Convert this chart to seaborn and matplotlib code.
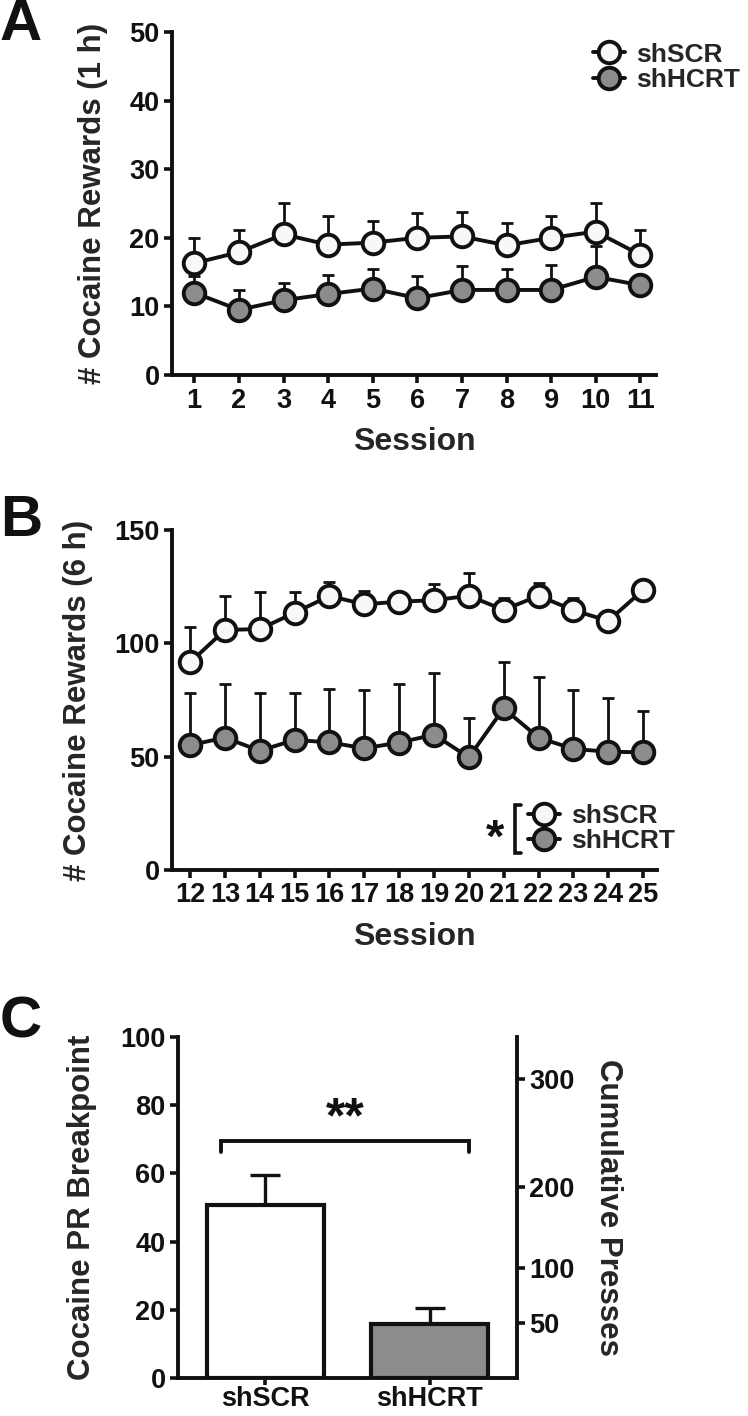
import numpy as np
import pandas as pd
import seaborn as sns
import matplotlib.pyplot as plt

# Data
sessions_a = [1, 2, 3, 4, 5, 6, 7, 8, 9, 10, 11]
scr_a = [16.3, 17.9, 20.5, 19.0, 19.3, 20.0, 20.2, 18.9, 20.0, 20.9, 17.5]
scr_a_sem = [3.7, 3.3, 4.6, 4.2, 3.2, 3.6, 3.5, 3.2, 3.2, 4.2, 3.6]
hcrt_a = [12.0, 9.5, 10.9, 11.8, 12.6, 11.2, 12.4, 12.4, 12.4, 14.3, 13.1]
hcrt_a_sem = [2.4, 2.9, 2.5, 2.8, 2.9, 3.2, 3.5, 3.1, 3.6, 4.5, 1.2]

sessions_b = [12, 13, 14, 15, 16, 17, 18, 19, 20, 21, 22, 23, 24, 25]
scr_b = [91.6, 105.9, 106.3, 113.5, 120.9, 117.2, 118.4, 119.0, 121.0, 114.7, 121.0, 114.6, 109.9, 123.5]
scr_b_sem = [15.8, 15.1, 16.2, 9.0, 6.3, 6.0, 1.5, 7.0, 9.9, 5.2, 5.5, 5.3, 4.4, 2.0]
hcrt_b = [55.1, 58.4, 52.6, 57.4, 56.3, 53.7, 56.2, 59.7, 49.7, 71.3, 58.4, 53.4, 52.2, 51.9]
hcrt_b_sem = [22.8, 23.5, 25.3, 20.8, 23.4, 25.7, 25.9, 27.4, 17.2, 20.6, 26.9, 26.0, 23.5, 18.2]

groups = ['shSCR', 'shHCRT']
breakpoint_mean = [50.8, 15.9]
breakpoint_sem = [8.7, 4.7]
presses_labels = ['50', '100', '200', '300']
presses_at_breakpoint = [16.1, 32.3, 56.0, 87.7]

sns.set_theme(style='ticks')
plt.rcParams['font.family'] = ['Liberation Sans', 'DejaVu Sans']
plt.rcParams['font.weight'] = 'bold'
plt.rcParams['axes.labelweight'] = 'bold'

W, H = 748, 1416
fig = plt.figure(figsize=(W / 100, H / 100), dpi=100)

def px_axes(left, right, top, bottom):
    return fig.add_axes([left / W, 1 - bottom / H, (right - left) / W, (bottom - top) / H])

ax_a = px_axes(172, 656, 32, 375)
ax_b = px_axes(172, 657, 530, 870)
ax_c = px_axes(178, 517, 1037, 1378)

face = {'shSCR': '#f8f8f8', 'shHCRT': '#8c8c8c'}
edge = '#111111'
tick_fs = 19.5
label_fs = 22.5


def style_axes(ax):
    for s in ['left', 'bottom', 'right']:
        ax.spines[s].set_linewidth(2.8)
        ax.spines[s].set_color(edge)
    ax.tick_params(width=2.6, length=6, labelsize=tick_fs, colors=edge, pad=3)
    for t in ax.get_xticklabels() + ax.get_yticklabels():
        t.set_fontweight('bold')


def session_panel(ax, x, scr, scr_sem, hcrt, hcrt_sem):
    for y, sem, name in [(scr, scr_sem, 'shSCR'), (hcrt, hcrt_sem, 'shHCRT')]:
        ax.errorbar(x, y, yerr=[np.zeros(len(sem)), sem], fmt='none', ecolor=edge,
                    elinewidth=2.0, capsize=4.0, capthick=2.0, zorder=2)
        df = pd.DataFrame({'session': x, 'value': y})
        sns.lineplot(data=df, x='session', y='value', ax=ax, color=edge, linewidth=2.8,
                     marker='o', markersize=15.5, markerfacecolor=face[name],
                     markeredgecolor=edge, markeredgewidth=2.8, label=name, zorder=3)
    sns.despine(ax=ax)
    ax.set_xticks(x)
    ax.set_xlabel('Session', fontsize=label_fs + 0.5, fontweight='bold', labelpad=10)


def bold_legend(ax, anchor):
    leg = ax.legend(loc='upper left', bbox_to_anchor=anchor, frameon=False, fontsize=19,
                    handlelength=1.2, handletextpad=0.45, labelspacing=0.05, borderaxespad=0)
    for t in leg.get_texts():
        t.set_fontweight('bold')
    return leg


# Panel A
session_panel(ax_a, sessions_a, scr_a, scr_a_sem, hcrt_a, hcrt_a_sem)
ax_a.set_xlim(0.5, 11.35)
ax_a.set_ylim(0, 50)
ax_a.set_yticks([0, 10, 20, 30, 40, 50])
ax_a.set_ylabel('# Cocaine Rewards (1 h)', fontsize=label_fs, fontweight='bold', labelpad=15)
style_axes(ax_a)
bold_legend(ax_a, (0.848, 1.0))

# Panel B
session_panel(ax_b, sessions_b, scr_b, scr_b_sem, hcrt_b, hcrt_b_sem)
ax_b.set_xlim(11.48, 25.4)
ax_b.set_ylim(0, 150)
ax_b.set_yticks([0, 50, 100, 150])
ax_b.set_ylabel('# Cocaine Rewards (6 h)', fontsize=label_fs, fontweight='bold', labelpad=15)
style_axes(ax_b)
bold_legend(ax_b, (0.712, 0.225))
# significance bracket next to legend
ax_b.plot([0.72, 0.707, 0.707, 0.72], [0.19, 0.19, 0.05, 0.05], transform=ax_b.transAxes,
          color=edge, lw=2.6, solid_joinstyle='miter', clip_on=False)
ax_b.text(0.667, 0.09, '*', transform=ax_b.transAxes, fontsize=34, fontweight='bold',
          ha='center', va='center', color=edge)

# Panel C
cdf = pd.DataFrame({'group': groups, 'bp': breakpoint_mean})
sns.barplot(data=cdf, x='group', y='bp', ax=ax_c, palette=['white', face['shHCRT']],
            hue='group', legend=False, width=0.71, edgecolor=edge, linewidth=3.0, zorder=3)
ax_c.errorbar([0, 1], breakpoint_mean, yerr=[np.zeros(2), breakpoint_sem], fmt='none',
              ecolor=edge, elinewidth=2.4, capsize=11, capthick=2.4, zorder=2)
ax_c.set_xlim(-0.53, 1.53)
ax_c.set_ylim(0, 100)
ax_c.set_yticks([0, 20, 40, 60, 80, 100])
ax_c.set_xlabel('')
ax_c.set_ylabel('Cocaine PR Breakpoint', fontsize=label_fs, fontweight='bold', labelpad=17)
ax_c.spines['top'].set_visible(False)
ax_c.spines['right'].set_visible(False)
style_axes(ax_c)
ax_c.tick_params(axis='x', length=5, pad=1)

ax_r = ax_c.twinx()
ax_r.set_ylim(0, 100)
ax_r.set_yticks(presses_at_breakpoint)
ax_r.set_yticklabels(presses_labels)
ax_r.spines['top'].set_visible(False)
ax_r.spines['left'].set_visible(False)
ax_r.spines['bottom'].set_visible(False)
style_axes(ax_r)
ax_r.set_ylabel('Cumulative Presses', fontsize=label_fs, fontweight='bold', rotation=-90,
                labelpad=35)

# bracket with stars
ax_c.plot([-0.267, -0.267, 1.236, 1.236], [66.3, 69.6, 69.6, 66.3], color=edge, lw=2.8,
          solid_joinstyle='miter')
ax_c.text(0.485, 69, '**', ha='center', va='bottom', fontsize=36, fontweight='bold', color=edge)

# panel letters
for letter, ypx in [('A', -2), ('B', 494), ('C', 996)]:
    fig.text(0, 1 - ypx / H, letter, fontsize=42, fontweight='bold', va='top', ha='left',
             color=edge)

fig.savefig('out.png', dpi=100)
